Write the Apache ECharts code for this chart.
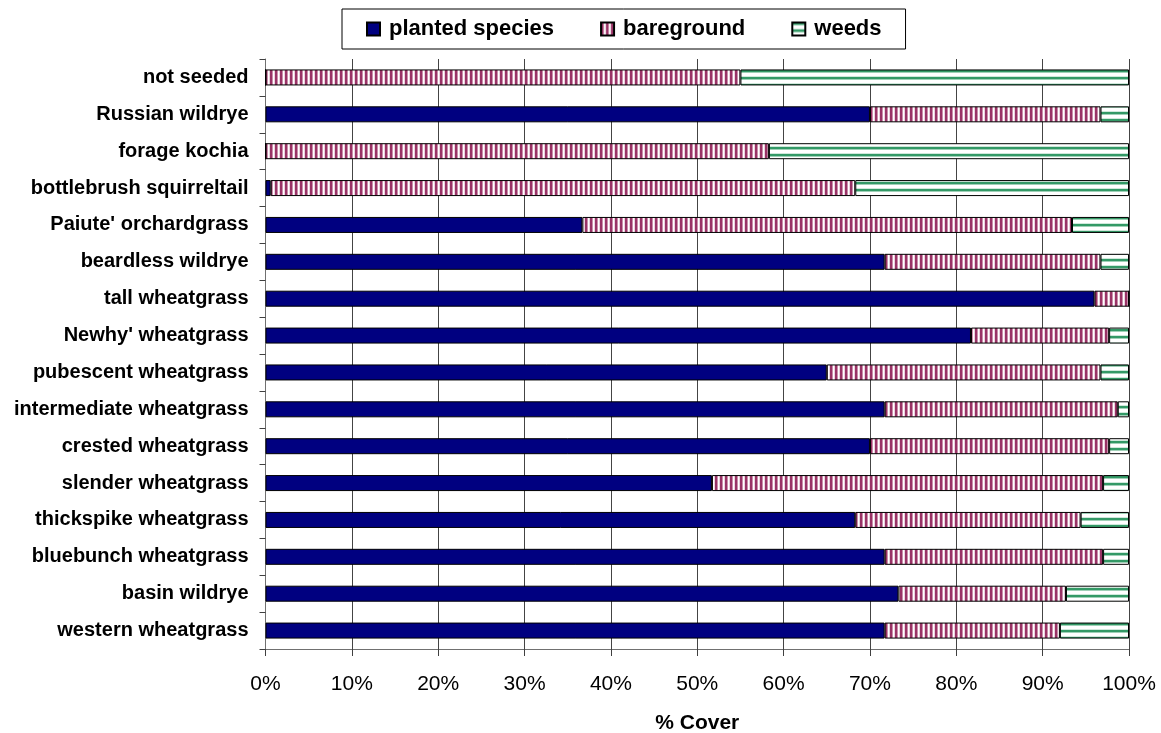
<!DOCTYPE html>
<html>
<head>
<meta charset="utf-8">
<style>
  html, body { margin: 0; padding: 0; background: #ffffff; }
  #chart { width: 1161px; height: 733px; }
</style>
<script src="https://cdn.jsdelivr.net/npm/echarts@6/dist/echarts.min.js"></script>
</head>
<body>
<div id="chart"></div>
<script>
// Species plots, listed top to bottom
const categories = [
  'not seeded', 'Russian wildrye', 'forage kochia', 'bottlebrush squirreltail',
  "Paiute' orchardgrass", 'beardless wildrye', 'tall wheatgrass', "Newhy' wheatgrass",
  'pubescent wheatgrass', 'intermediate wheatgrass', 'crested wheatgrass', 'slender wheatgrass',
  'thickspike wheatgrass', 'bluebunch wheatgrass', 'basin wildrye', 'western wheatgrass'
];

// Percent cover of each component (rows sum to 100)
const plantedSpecies = [0, 70, 0, 0.6, 36.7, 71.7, 96, 81.7, 65, 71.7, 70, 51.7, 68.3, 71.7, 73.3, 71.7];
const bareground     = [55, 26.7, 58.3, 67.7, 56.7, 25, 4, 16, 31.7, 27, 27.7, 45.3, 26.1, 25.3, 19.4, 20.3];
const weeds          = [45, 3.3, 41.7, 31.7, 6.6, 3.3, 0, 2.3, 3.3, 1.3, 2.3, 3, 5.6, 3, 7.3, 8];

const xTicks = [0, 10, 20, 30, 40, 50, 60, 70, 80, 90, 100];

const FONT = '"Liberation Sans", Arial, Helvetica, sans-serif';

// Vertical maroon stripes for bare ground
function stripeVertical() {
  const c = document.createElement('canvas');
  c.width = 5; c.height = 4;
  const g = c.getContext('2d');
  g.fillStyle = '#ffffff'; g.fillRect(0, 0, 5, 4);
  g.fillStyle = '#993366'; g.fillRect(0, 0, 2, 4);
  g.fillStyle = '#c98fab'; g.fillRect(2, 0, 1, 4);
  g.fillStyle = '#ead2de'; g.fillRect(4, 0, 1, 4);
  return c;
}

// Horizontal green stripes for weeds
function stripeHorizontal() {
  const c = document.createElement('canvas');
  c.width = 4; c.height = 7;
  const g = c.getContext('2d');
  g.fillStyle = '#ffffff'; g.fillRect(0, 0, 4, 7);
  g.fillStyle = '#339966'; g.fillRect(0, 0, 4, 2);
  g.fillStyle = '#9fd0b7'; g.fillRect(0, 2, 4, 1);
  g.fillStyle = '#cfe8db'; g.fillRect(0, 6, 4, 1);
  return c;
}

const chart = echarts.init(document.getElementById('chart'), null, { renderer: 'canvas' });

const barBase = {
  type: 'bar',
  stack: 'cover',
  barWidth: 16,
  silent: true,
  animation: false
};

chart.setOption({
  backgroundColor: '#ffffff',
  animation: false,
  textStyle: { fontFamily: FONT },
  legend: {
    left: 342,
    top: 9,
    padding: [9, 24, 9, 24],
    itemGap: 46,
    itemWidth: 13,
    itemHeight: 13,
    borderColor: '#000000',
    borderWidth: 1,
    icon: 'rect',
    selectedMode: false,
    textStyle: { fontFamily: FONT, fontSize: 22, fontWeight: 'bold', color: '#000000', padding: [0, 0, 0, 4] },
    data: ['planted species', 'bareground', 'weeds']
  },
  grid: {
    left: 265.5,
    right: 32,
    top: 59,
    bottom: 84,
    containLabel: false,
    outerBoundsMode: 'none'
  },
  xAxis: {
    type: 'value',
    min: xTicks[0],
    max: xTicks[xTicks.length - 1],
    interval: 10,
    name: '% Cover',
    nameLocation: 'middle',
    nameGap: 64,
    nameTextStyle: { fontFamily: FONT, fontSize: 21, fontWeight: 'bold', color: '#000000' },
    axisLine: { show: true, lineStyle: { color: '#707070', width: 1 } },
    axisTick: { show: true, length: 7, lineStyle: { color: '#404040' } },
    axisLabel: { margin: 25, fontFamily: FONT, fontSize: 21, color: '#000000', formatter: '{value}%' },
    splitLine: { show: true, lineStyle: { color: '#444444', width: 1 } }
  },
  yAxis: {
    type: 'category',
    data: categories,
    inverse: true,
    axisLine: { show: true, lineStyle: { color: '#707070', width: 1 } },
    axisTick: { show: true, length: 6, inside: false, lineStyle: { color: '#404040' } },
    axisLabel: { margin: 17, fontFamily: FONT, fontSize: 20, fontWeight: 'bold', color: '#000000' },
    splitLine: { show: false }
  },
  series: [
    Object.assign({}, barBase, {
      name: 'planted species',
      data: plantedSpecies,
      itemStyle: { color: '#000080', borderColor: '#000000', borderWidth: 1 }
    }),
    Object.assign({}, barBase, {
      name: 'bareground',
      data: bareground,
      itemStyle: { color: { image: stripeVertical(), repeat: 'repeat' }, borderColor: '#000000', borderWidth: 1 }
    }),
    Object.assign({}, barBase, {
      name: 'weeds',
      data: weeds,
      itemStyle: { color: { image: stripeHorizontal(), repeat: 'repeat' }, borderColor: '#000000', borderWidth: 1 }
    })
  ]
});
</script>
</body>
</html>
